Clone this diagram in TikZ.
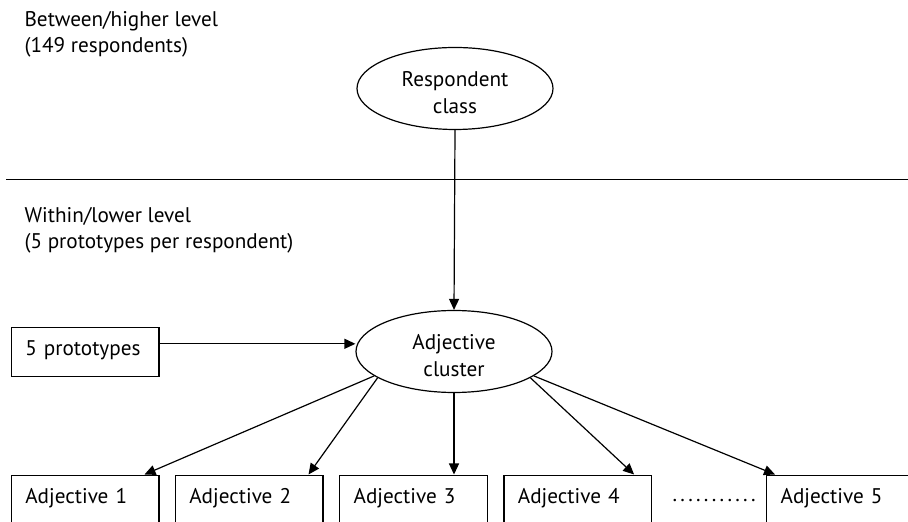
\documentclass[tikz,border=0pt]{standalone}
\usepackage{fontspec}
\setmainfont{PT Sans}
\usetikzlibrary{arrows.meta,calc,shapes.geometric}
\newcommand{\ovalstrut}{\rule{0pt}{11.6pt}}
\begin{document}
\begin{tikzpicture}[x=0.5pt,y=-0.5pt,
  font=\fontsize{10.6pt}{13.2pt}\selectfont,
  line width=0.6pt,
  conn/.style={-{Triangle[length=5.5pt,width=5pt]}},
  oval/.style={draw,ellipse,minimum width=98pt,minimum height=41pt,inner sep=0pt,align=center},
  leveltext/.style={anchor=base west,inner sep=0pt,align=left},
  boxbase/.style={draw,anchor=north west,inner xsep=7pt,inner ysep=7pt,text width=59.8pt,align=left,text height=7.2pt},
  protobox/.style={boxbase,text depth=3.3pt},
  adjbox/.style={boxbase,text depth=14pt}
]
\useasboundingbox (0,0) rectangle (908,522);
\clip (0,0) rectangle (908,522);

\node[leveltext] (between) at (24,53) {Between/higher level\\(149 respondents)};
\node[leveltext] (within) at (24,249) {Within/lower level\\(5 prototypes per respondent)};

\coordinate (hlL) at (6,179.3);
\coordinate (hlR) at (908,179.3);
\draw (hlL) -- (hlR);

\node[oval] (rc) at (455,88.5) {\ovalstrut Respondent\\class};
\node[oval] (cl) at (454,351.5) {\ovalstrut Adjective\\cluster};

\node[protobox] (proto) at (10.7,326.7) {5 prototypes};

\node[adjbox] (a1) at (10.7,474.5) {Adjective 1};
\node[adjbox] (a2) at (174.7,474.5) {Adjective 2};
\node[adjbox] (a3) at (339,474.5) {Adjective 3};
\node[adjbox] (a4) at (503.3,474.5) {Adjective 4};
\node[adjbox] (a5) at (766,474.5) {Adjective 5};

\node[anchor=base west,inner sep=0pt] (dots) at (672,502) {\hbox to 41.5pt{.\hfill.\hfill.\hfill.\hfill.\hfill.\hfill.\hfill.\hfill.\hfill.\hfill.}};

\draw[conn] (rc.south) -- (cl.north);
\coordinate (pa) at ($(proto.east)+(0,-8)$);
\draw[conn] (pa) -- (pa -| cl.west);
\draw[conn] (cl.197) -- ($(a1.north east)+(-15,0)$);
\draw[conn] (cl.199) -- ($(a2.north east)+(-15,0)$);
\draw[conn] (cl.south) -- (cl.south |- a3.north);
\draw[conn] (cl.341) -- ($(a4.north east)+(-18,0)$);
\draw[conn] (cl.343) -- ($(a5.north west)+(9,0)$);
\end{tikzpicture}
\end{document}
